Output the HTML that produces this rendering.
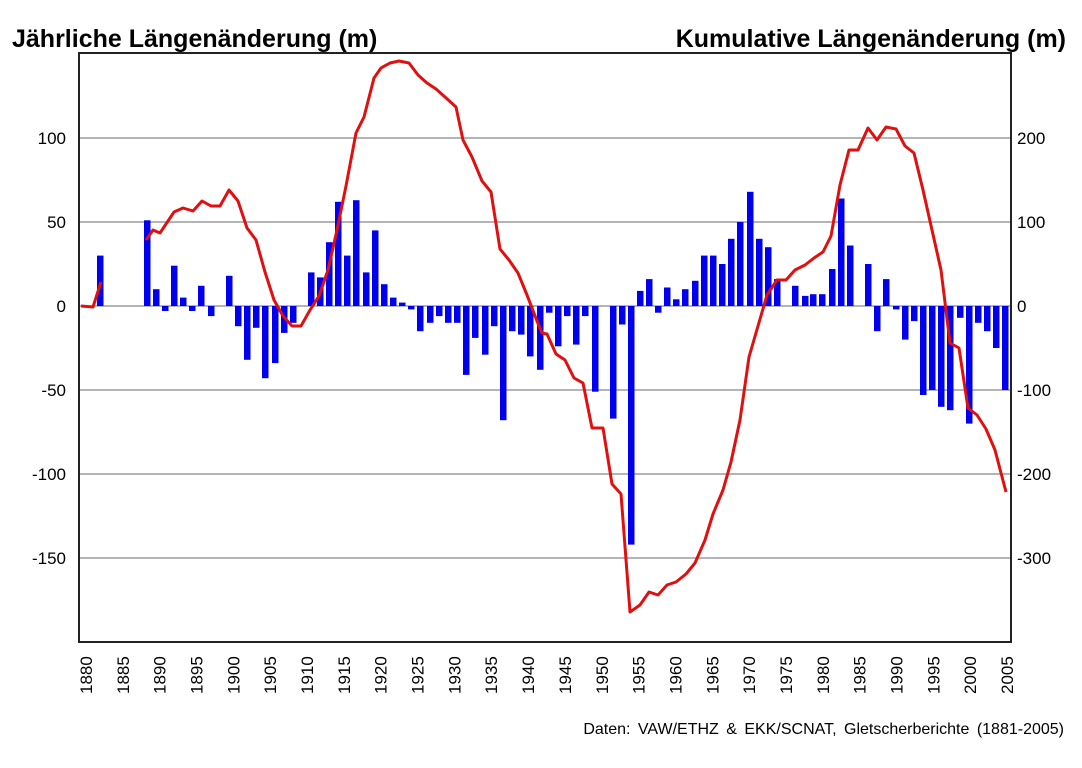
<!DOCTYPE html>
<html><head><meta charset="utf-8"><style>
body{margin:0;background:#fff;}
svg text{font-family:"Liberation Sans",sans-serif;}
</style></head><body>
<svg width="1082" height="763" xmlns="http://www.w3.org/2000/svg">
<rect width="1082" height="763" fill="#fff"/>
<g stroke="#888" stroke-width="1.3">
<line x1="79" x2="1011" y1="138" y2="138"/><line x1="79" x2="1011" y1="222" y2="222"/>
<line x1="79" x2="1011" y1="306" y2="306"/><line x1="79" x2="1011" y1="390" y2="390"/>
<line x1="79" x2="1011" y1="474" y2="474"/><line x1="79" x2="1011" y1="558" y2="558"/>
</g>
<g fill="#0000ee">
<rect x="97" y="255.6" width="6.5" height="50.4"/>
<rect x="144" y="220.3" width="6.5" height="85.7"/>
<rect x="153" y="289.2" width="6.5" height="16.8"/>
<rect x="162" y="306" width="6.5" height="5"/>
<rect x="171" y="265.7" width="6.5" height="40.3"/>
<rect x="180" y="297.6" width="6.5" height="8.4"/>
<rect x="189" y="306" width="6.5" height="5"/>
<rect x="198" y="285.8" width="6.5" height="20.2"/>
<rect x="208" y="306" width="6.5" height="10.1"/>
<rect x="226" y="275.8" width="6.5" height="30.2"/>
<rect x="235" y="306" width="6.5" height="20.2"/>
<rect x="244" y="306" width="6.5" height="53.8"/>
<rect x="253" y="306" width="6.5" height="21.8"/>
<rect x="262" y="306" width="6.5" height="72.2"/>
<rect x="272" y="306" width="6.5" height="57.1"/>
<rect x="281" y="306" width="6.5" height="26.9"/>
<rect x="290" y="306" width="6.5" height="16.8"/>
<rect x="308" y="272.4" width="6.5" height="33.6"/>
<rect x="317" y="277.4" width="6.5" height="28.6"/>
<rect x="326" y="242.2" width="6.5" height="63.8"/>
<rect x="335" y="201.8" width="6.5" height="104.2"/>
<rect x="344" y="255.6" width="6.5" height="50.4"/>
<rect x="353" y="200.2" width="6.5" height="105.8"/>
<rect x="363" y="272.4" width="6.5" height="33.6"/>
<rect x="372" y="230.4" width="6.5" height="75.6"/>
<rect x="381" y="284.2" width="6.5" height="21.8"/>
<rect x="390" y="297.6" width="6.5" height="8.4"/>
<rect x="399" y="302.6" width="6.5" height="3.4"/>
<rect x="408" y="306" width="6.5" height="3.4"/>
<rect x="417" y="306" width="6.5" height="25.2"/>
<rect x="427" y="306" width="6.5" height="16.8"/>
<rect x="436" y="306" width="6.5" height="10.1"/>
<rect x="445" y="306" width="6.5" height="16.8"/>
<rect x="454" y="306" width="6.5" height="16.8"/>
<rect x="463" y="306" width="6.5" height="68.9"/>
<rect x="472" y="306" width="6.5" height="31.9"/>
<rect x="482" y="306" width="6.5" height="48.7"/>
<rect x="491" y="306" width="6.5" height="20.2"/>
<rect x="500" y="306" width="6.5" height="114.2"/>
<rect x="509" y="306" width="6.5" height="25.2"/>
<rect x="518" y="306" width="6.5" height="28.6"/>
<rect x="527" y="306" width="6.5" height="50.4"/>
<rect x="537" y="306" width="6.5" height="63.8"/>
<rect x="546" y="306" width="6.5" height="6.7"/>
<rect x="555" y="306" width="6.5" height="40.3"/>
<rect x="564" y="306" width="6.5" height="10.1"/>
<rect x="573" y="306" width="6.5" height="38.6"/>
<rect x="582" y="306" width="6.5" height="10.1"/>
<rect x="592" y="306" width="6.5" height="85.7"/>
<rect x="610" y="306" width="6.5" height="112.6"/>
<rect x="619" y="306" width="6.5" height="18.5"/>
<rect x="628" y="306" width="6.5" height="238.6"/>
<rect x="637" y="290.9" width="6.5" height="15.1"/>
<rect x="646" y="279.1" width="6.5" height="26.9"/>
<rect x="655" y="306" width="6.5" height="6.7"/>
<rect x="664" y="287.5" width="6.5" height="18.5"/>
<rect x="673" y="299.3" width="6.5" height="6.7"/>
<rect x="682" y="289.2" width="6.5" height="16.8"/>
<rect x="692" y="280.8" width="6.5" height="25.2"/>
<rect x="701" y="255.6" width="6.5" height="50.4"/>
<rect x="710" y="255.6" width="6.5" height="50.4"/>
<rect x="719" y="264" width="6.5" height="42"/>
<rect x="728" y="238.8" width="6.5" height="67.2"/>
<rect x="737" y="222" width="6.5" height="84"/>
<rect x="747" y="191.8" width="6.5" height="114.2"/>
<rect x="756" y="238.8" width="6.5" height="67.2"/>
<rect x="765" y="247.2" width="6.5" height="58.8"/>
<rect x="774" y="279.1" width="6.5" height="26.9"/>
<rect x="792" y="285.8" width="6.5" height="20.2"/>
<rect x="802" y="295.9" width="6.5" height="10.1"/>
<rect x="810" y="294.2" width="6.5" height="11.8"/>
<rect x="819" y="294.2" width="6.5" height="11.8"/>
<rect x="829" y="269" width="6.5" height="37"/>
<rect x="838" y="198.5" width="6.5" height="107.5"/>
<rect x="847" y="245.5" width="6.5" height="60.5"/>
<rect x="865" y="264" width="6.5" height="42"/>
<rect x="874" y="306" width="6.5" height="25.2"/>
<rect x="883" y="279.1" width="6.5" height="26.9"/>
<rect x="893" y="306" width="6.5" height="3.4"/>
<rect x="902" y="306" width="6.5" height="33.6"/>
<rect x="911" y="306" width="6.5" height="15.1"/>
<rect x="920" y="306" width="6.5" height="89"/>
<rect x="929" y="306" width="6.5" height="84"/>
<rect x="938" y="306" width="6.5" height="100.8"/>
<rect x="947" y="306" width="6.5" height="104.2"/>
<rect x="957" y="306" width="6.5" height="11.8"/>
<rect x="966" y="306" width="6.5" height="117.6"/>
<rect x="975" y="306" width="6.5" height="16.8"/>
<rect x="984" y="306" width="6.5" height="25.2"/>
<rect x="993" y="306" width="6.5" height="42"/>
<rect x="1002" y="306" width="6.5" height="84"/>
</g>
<polyline fill="none" stroke="#e01010" stroke-width="3" stroke-linejoin="round" points="81,306 93,307 101,282"/>
<polyline fill="none" stroke="#e01010" stroke-width="3" stroke-linejoin="round" points="146,240 153,230 160,233 174,212 183,208 193,211 202,201 211,206 220,206 229,190 238,201 247,228 256,240 265,272 274,300 283,316 292,326 301,326 310,310 319,296 328,270 337,230 346,186 356,133 364,117 374,78 381,68 390,63 399,61 409,63 418,75 427,83 436,89 445,97 456,107 463,140 472,157 482,181 491,192 500,249 509,260 518,273 527,295 537,321 542,333 547,334 556,354 565,360 574,378 583,383 592,428 603,428 612,484 621,494 630,612 640,605 649,592 658,595 667,585 676,582 686,574 695,563 705,540 713,514 723,490 731,462 740,420 749,357 758,326 767,295 777,280 786,280 795,270 805,265 814,258 823,252 831,236 840,185 849,150 858,150 868,128 877,140 886,127 896,129 905,146 914,153 923,190 932,230 941,270 950,343 959,348 968,408 977,415 986,429 995,450 1006,492"/>
<rect x="79" y="53" width="932" height="589" fill="none" stroke="#222" stroke-width="2"/>
<g font-size="17" text-anchor="end">
<text x="66" y="144">100</text><text x="66" y="228">50</text><text x="66" y="312">0</text>
<text x="66" y="396">-50</text><text x="66" y="480">-100</text><text x="66" y="564">-150</text>
</g>
<g font-size="17" text-anchor="start">
<text x="1017" y="144">200</text><text x="1017" y="228">100</text><text x="1017" y="312">0</text>
<text x="1017" y="396">-100</text><text x="1017" y="480">-200</text><text x="1017" y="564">-300</text>
</g>
<g font-size="17">
<text transform="translate(92,694) rotate(-90)">1880</text>
<text transform="translate(128.8,694) rotate(-90)">1885</text>
<text transform="translate(165.7,694) rotate(-90)">1890</text>
<text transform="translate(202.5,694) rotate(-90)">1895</text>
<text transform="translate(239.4,694) rotate(-90)">1900</text>
<text transform="translate(276.2,694) rotate(-90)">1905</text>
<text transform="translate(313,694) rotate(-90)">1910</text>
<text transform="translate(349.9,694) rotate(-90)">1915</text>
<text transform="translate(386.7,694) rotate(-90)">1920</text>
<text transform="translate(423.6,694) rotate(-90)">1925</text>
<text transform="translate(460.4,694) rotate(-90)">1930</text>
<text transform="translate(497.2,694) rotate(-90)">1935</text>
<text transform="translate(534.1,694) rotate(-90)">1940</text>
<text transform="translate(570.9,694) rotate(-90)">1945</text>
<text transform="translate(607.8,694) rotate(-90)">1950</text>
<text transform="translate(644.6,694) rotate(-90)">1955</text>
<text transform="translate(681.4,694) rotate(-90)">1960</text>
<text transform="translate(718.3,694) rotate(-90)">1965</text>
<text transform="translate(755.1,694) rotate(-90)">1970</text>
<text transform="translate(792,694) rotate(-90)">1975</text>
<text transform="translate(828.8,694) rotate(-90)">1980</text>
<text transform="translate(865.6,694) rotate(-90)">1985</text>
<text transform="translate(902.5,694) rotate(-90)">1990</text>
<text transform="translate(939.3,694) rotate(-90)">1995</text>
<text transform="translate(976.2,694) rotate(-90)">2000</text>
<text transform="translate(1013,694) rotate(-90)">2005</text>
</g>
<text x="12" y="47" font-size="25" font-weight="bold">Jährliche Längenänderung (m)</text>
<text x="1066" y="47" font-size="25" font-weight="bold" text-anchor="end">Kumulative Längenänderung (m)</text>
<text x="1064" y="734" font-size="16" word-spacing="3" text-anchor="end">Daten: VAW/ETHZ &amp; EKK/SCNAT, Gletscherberichte (1881-2005)</text>
</svg>
</body></html>
